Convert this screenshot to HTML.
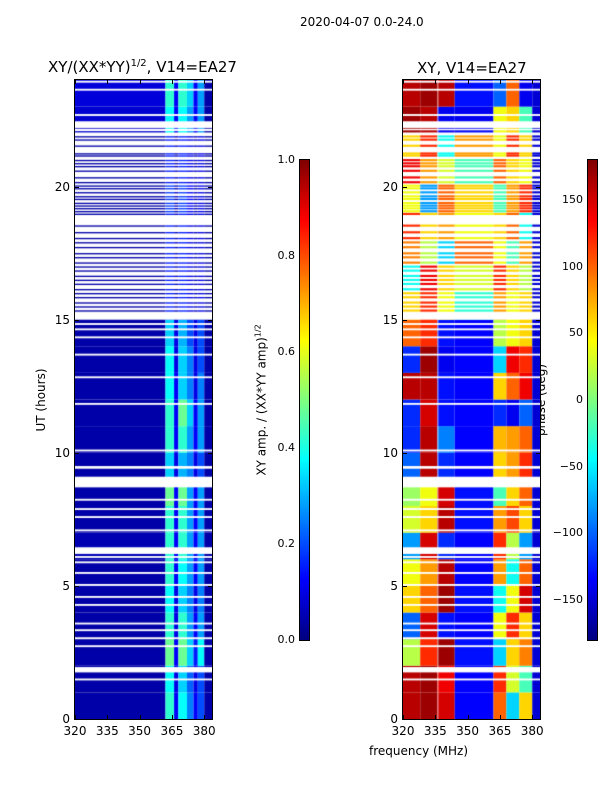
<!DOCTYPE html>
<html><head><meta charset="utf-8">
<style>
body{margin:0;background:#fff;width:600px;height:800px;position:relative;overflow:hidden;font-family:"DejaVu Sans","Liberation Sans",sans-serif;color:#000}
.t{position:absolute;white-space:nowrap;font-size:12px;line-height:1}
canvas{position:absolute}
.frame{position:absolute;border:1px solid #000;box-sizing:border-box}
</style></head><body>
<div class="t" style="left:300px;top:16px;font-size:12px">2020-04-07 0.0-24.0</div>
<div class="t" style="left:48px;top:59px;font-size:15px">XY/(XX*YY)<sup style="font-size:10px">1/2</sup>, V14=EA27</div>
<div class="t" style="left:417px;top:61px;font-size:15px">XY, V14=EA27</div>
<div class="t" style="left:41px;top:400px;font-size:12px;transform:translate(-50%,-50%) rotate(-90deg)">UT (hours)</div>
<div class="t" style="left:261px;top:400px;font-size:12px;transform:translate(-50%,-50%) rotate(-90deg)">XY amp. / (XX*YY amp)<sup style="font-size:8px">1/2</sup></div>
<div class="t" style="left:541px;top:400px;font-size:12px;transform:translate(-50%,-50%) rotate(-90deg)">phase (deg)</div>
<div class="t" style="left:369px;top:745px;font-size:12px">frequency (MHz)</div>
<canvas id="cL" width="137" height="639" style="left:75px;top:80px"></canvas>
<canvas id="cR" width="137" height="639" style="left:403px;top:80px"></canvas>
<canvas id="cb1" width="9" height="480" style="left:300px;top:160px"></canvas>
<canvas id="cb2" width="9" height="480" style="left:588px;top:160px"></canvas>
<div class="frame" style="left:74px;top:79px;width:139px;height:641px"></div>
<div class="frame" style="left:402px;top:79px;width:139px;height:641px"></div>
<div class="frame" style="left:299px;top:159px;width:11px;height:482px"></div>
<div class="frame" style="left:587px;top:159px;width:11px;height:482px"></div>
<div id="ann"></div>
<script>
// ---- data ----
const hourTicks=[0,5,10,15,20];
const freqTicks=[320,335,350,365,380];
const ampTicks=[0.0,0.2,0.4,0.6,0.8,1.0];
const phaseTicks=[-150,-100,-50,0,50,100,150];
const ampBands=[320,362,366,368,372,375,377,380,384];
const phaseBands=[320,328,336,344,362,368,374,380,384];
// amplitude per hour (rows 0..23) per band
const ampGrid=[
[.04,.42,.12,.38,.25,.12,.2,.04],[.04,.38,.1,.33,.22,.1,.2,.04],[.04,.48,.12,.48,.33,.15,.38,.04],
[.04,.42,.1,.42,.28,.12,.28,.04],[.04,.38,.1,.33,.25,.1,.25,.04],[.04,.42,.12,.38,.28,.12,.28,.04],
[.05,.42,.12,.42,.28,.12,.28,.04],[.04,.42,.12,.42,.28,.12,.28,.04],[.04,.48,.12,.48,.28,.12,.28,.04],
[.04,.33,.1,.3,.25,.1,.2,.04],[.04,.42,.12,.42,.28,.12,.28,.04],[.04,.42,.12,.48,.33,.12,.28,.04],
[.04,.38,.12,.33,.25,.1,.25,.04],[.04,.38,.1,.33,.25,.1,.2,.04],[.04,.33,.1,.3,.2,.1,.2,.04],
[.04,.15,.06,.15,.1,.06,.1,.04],[.04,.15,.06,.15,.1,.06,.1,.04],[.04,.15,.06,.15,.1,.06,.1,.04],
[.04,.15,.06,.15,.1,.06,.1,.04],[.04,.18,.06,.18,.12,.06,.1,.04],[.04,.15,.06,.15,.1,.06,.1,.04],
[.04,.15,.06,.15,.1,.06,.1,.04],[.08,.38,.12,.38,.28,.12,.28,.04],[.09,.42,.12,.42,.33,.12,.28,.04]];
const phaseGrid=[
[160,170,150,-135,100,-60,60,-150],[160,170,140,-135,120,30,-20,-150],[20,120,170,-130,-60,60,90,-150],
[-100,150,-130,-135,40,120,60,-150],[60,100,170,-130,-40,40,150,-150],[40,80,160,-135,80,-40,100,-150],
[-80,150,-120,-135,120,20,-80,-150],[30,60,160,-130,80,110,60,-150],[10,40,150,-130,-20,60,100,-150],
[-100,160,-120,-135,60,80,120,-150],[-120,160,-90,-135,70,80,100,-150],[-120,150,-130,-135,-120,-140,-100,-150],
[160,160,-130,-135,60,100,140,-150],[-120,170,-140,-135,-60,140,120,-150],[100,120,-130,-135,20,40,60,-150],
[60,120,40,-30,80,40,60,-150],[-40,140,60,30,120,60,20,-150],[90,20,-60,100,40,-20,80,-150],
[120,60,80,40,60,100,-40,-150],[40,-80,100,60,-20,80,120,-150],[140,80,30,-20,100,60,40,-150],
[60,120,-40,80,40,120,60,-150],[170,160,-140,-140,40,60,-20,-150],[160,170,160,-130,-100,100,-140,-150]];
const flagBands=[[1.75,1.95],[6.2,6.45],[8.7,9.1],[9.4,9.5],[15.0,15.25],[22.2,22.45]];
const flagLines=[1.45,2.7,3.0,3.3,3.55,4.25,4.55,5.0,5.45,5.85,6.05,7.05,7.55,7.85,8.2,10.05,11.8,12.8,13.65,14.3,14.6,14.8,22.65,23.6,23.9];
const sparseLines=[15.3,15.45,15.6,15.8,15.95,16.1,16.3,16.45,16.6,16.8,16.95,17.1,17.3,17.45,17.68,17.86,18.02,18.24,18.49,18.93,19.03,19.14,19.24,19.34,19.49,19.59,19.74,19.89,19.99,20.12,20.3,20.55,20.72,20.83,20.95,21.12,21.2,21.49,21.72,21.84,22.03,22.17];
// ---- helpers ----
const W=137,H=639;
function xs(f){return (f-320)*W/63.6;}
function ys(h){return H-h*H/24;}
function jet(v){v=Math.max(0,Math.min(1,v));
 const r=Math.max(0,Math.min(1,1.5-Math.abs(4*v-3))),g=Math.max(0,Math.min(1,1.5-Math.abs(4*v-2))),b=Math.max(0,Math.min(1,1.5-Math.abs(4*v-1)));
 return `rgb(${Math.round(r*255)},${Math.round(g*255)},${Math.round(b*255)})`;}
function drawPanel(id,grid,bands,norm,sparseThick){
 const c=document.getElementById(id).getContext('2d');
 c.fillStyle='#fff';c.fillRect(0,0,W,H);
 const sparseStart=15.25,sparseEnd=22.2;
 for(let r=0;r<24;r++){
  for(let b=0;b<bands.length-1;b++){
   const x0=xs(bands[b]),x1=xs(bands[b+1]);
   c.fillStyle=jet(norm(grid[r][b]));
   const a=r,z=r+1;
   if(a<sparseEnd&&z>sparseStart){
    if(a<sparseStart)c.fillRect(x0,ys(sparseStart),x1-x0,ys(a)-ys(sparseStart));
    if(z>sparseEnd)c.fillRect(x0,ys(z),x1-x0,ys(sparseEnd)-ys(z));
    for(const L of sparseLines){if(L>=a&&L<z){c.fillRect(x0,ys(L+sparseThick),x1-x0,ys(L)-ys(L+sparseThick));}}
   } else c.fillRect(x0,ys(z),x1-x0,ys(a)-ys(z));
  }
 }
 c.fillStyle='#fff';
 for(const [a,z] of flagBands)c.fillRect(0,ys(z),W,ys(a)-ys(z));
 for(const L of flagLines)c.fillRect(0,ys(L+0.07),W,ys(L)-ys(L+0.07));
}
drawPanel('cL',ampGrid,ampBands,v=>v,0.05);
drawPanel('cR',phaseGrid,phaseBands,v=>(v+180)/360,0.08);
(function(){const c=document.getElementById('cR').getContext('2d');c.fillStyle='rgba(255,255,255,0.6)';c.fillRect(xs(336),0,1,H);})();
function drawBar(id){const c=document.getElementById(id).getContext('2d');for(let i=0;i<480;i++){c.fillStyle=jet(1-i/479);c.fillRect(0,i,9,1);}}
drawBar('cb1');drawBar('cb2');
// ---- annotations ----
const ann=document.getElementById('ann');
function lab(txt,x,y,align,name,size){const d=document.createElement('div');d.className='t';d.textContent=txt;
 d.style.fontSize=(size||12)+'px';d.style.top=(y-6)+'px';
 if(align==='r'){d.style.right=(600-x)+'px';}else{d.style.left=x+'px';d.style.transform='translateX(-50%)';}
 
 
 ann.appendChild(d);}
function tick(x,y,w,h,name){const d=document.createElement('div');d.style.cssText=`position:absolute;left:${x}px;top:${y}px;width:${w}px;height:${h}px;background:#000`;
 
 
 ann.appendChild(d);}
for(const px0 of [75,403]){
 for(const h of hourTicks){const y=80+ys(h);
  lab(String(h),px0-5,y,'r','y-tick-label');
  tick(px0,Math.round(y),4,1,'y-tick');tick(px0+133,Math.round(y),4,1,'y-tick');}
 for(const f of freqTicks){const x=px0+xs(f);
  lab(String(f),x,731,'c','x-tick-label');
  tick(Math.round(x),715,1,4,'x-tick');tick(Math.round(x),80,1,4,'x-tick');}
}
for(const v of ampTicks){const y=640-v*480;lab(v.toFixed(1),295,y,'r','amp-colorbar-tick-label',11);}
for(const v of phaseTicks){const y=400-v*480/360;lab(v<0?'\u2212'+(-v):String(v),583,y,'r','phase-colorbar-tick-label',11);}
</script>
</body></html>
